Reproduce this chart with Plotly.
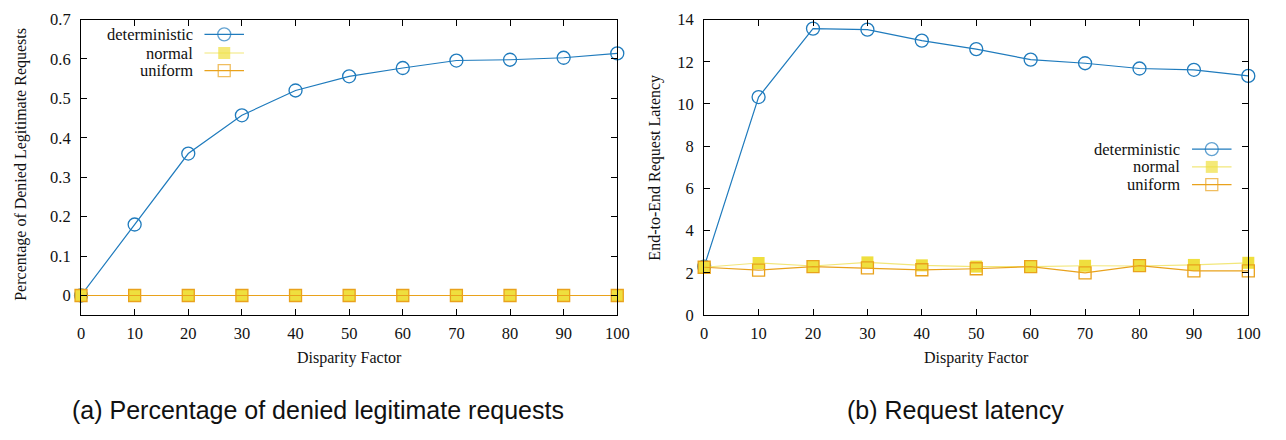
import plotly.graph_objects as go

# Disparity factors tested
disparity = [0, 10, 20, 30, 40, 50, 60, 70, 80, 90, 100]

# (a) share of legitimate requests that were denied
denied_deterministic = [0.0, 0.18, 0.36, 0.457, 0.52, 0.556, 0.577, 0.596, 0.598, 0.603, 0.614]
denied_normal = [0, 0, 0, 0, 0, 0, 0, 0, 0, 0, 0]
denied_uniform = [0, 0, 0, 0, 0, 0, 0, 0, 0, 0, 0]

# (b) end-to-end request latency
latency_deterministic = [2.3, 10.33, 13.57, 13.52, 13.0, 12.6, 12.1, 11.93, 11.68, 11.62, 11.33]
latency_normal = [2.27, 2.47, 2.33, 2.5, 2.36, 2.3, 2.3, 2.34, 2.33, 2.38, 2.48]
latency_uniform = [2.27, 2.13, 2.3, 2.24, 2.15, 2.2, 2.3, 2.0, 2.35, 2.1, 2.1]

series_names = ["deterministic", "normal", "uniform"]
x_ticks = [0, 10, 20, 30, 40, 50, 60, 70, 80, 90, 100]
y_ticks_a = [0, 0.1, 0.2, 0.3, 0.4, 0.5, 0.6, 0.7]
y_ticks_b = [0, 2, 4, 6, 8, 10, 12, 14]

# Figure fills the whole window; layout positions below are in window pixels.
W, H = 1286, 440

BLUE = "#1f7bbd"
YELLOW = "#efdf3e"
YELLOW_LINE = "#f2e77a"
ORANGE = "#e9a21c"
SERIF = "Liberation Serif"
INK = "#111"


def px_x(p):
    return p / W


def px_y(p):
    return 1 - p / H


styles = {
    "deterministic": dict(line=dict(color=BLUE, width=1.2),
                          marker=dict(symbol="circle-open", size=13, color=BLUE,
                                      line=dict(width=1.3, color=BLUE))),
    "normal": dict(line=dict(color=YELLOW_LINE, width=1.2),
                   marker=dict(symbol="square", size=12, color=YELLOW,
                               line=dict(width=0))),
    "uniform": dict(line=dict(color=ORANGE, width=1.2),
                    marker=dict(symbol="square-open", size=12, color=ORANGE,
                                line=dict(width=1.3, color=ORANGE))),
}

fig = go.Figure()

panel_a = {"deterministic": denied_deterministic, "normal": denied_normal, "uniform": denied_uniform}
panel_b = {"deterministic": latency_deterministic, "normal": latency_normal, "uniform": latency_uniform}

for name in series_names:
    fig.add_trace(go.Scatter(x=disparity, y=panel_a[name], mode="lines+markers",
                             xaxis="x", yaxis="y", cliponaxis=False,
                             showlegend=False, **styles[name]))
for name in series_names:
    fig.add_trace(go.Scatter(x=disparity, y=panel_b[name], mode="lines+markers",
                             xaxis="x2", yaxis="y2", cliponaxis=False,
                             showlegend=False, **styles[name]))


def legend_block(text_right, line_x0, line_x1, rows):
    """Key with the label on the left and the line/marker sample on the right."""
    for name, row_y in zip(series_names, rows):
        mid = (line_x0 + line_x1) / 2
        st = styles[name]
        fig.add_trace(go.Scatter(
            x=[line_x0, mid, line_x1], y=[row_y, row_y, row_y], mode="lines+markers",
            xaxis="x3", yaxis="y3", showlegend=False, hoverinfo="skip",
            line=st["line"],
            marker=dict(symbol=st["marker"]["symbol"], size=[0, st["marker"]["size"], 0],
                        color=st["marker"]["color"], line=st["marker"]["line"])))
        fig.add_annotation(x=px_x(text_right), y=px_y(row_y), xref="paper", yref="paper",
                           text=name, showarrow=False, xanchor="right", yanchor="middle",
                           font=dict(family=SERIF, size=16.5, color=INK))


legend_block(193, 203, 243, [26.5, 46, 64.5])
legend_block(1193, 1203, 1243, [146.5, 165, 183.5])

axis_common = dict(showline=True, linecolor="black", linewidth=1.2, mirror="ticks",
                   ticks="inside", ticklen=6, tickwidth=1, tickcolor="black",
                   showgrid=False, zeroline=False, ticklabeloverflow="allow",
                   tickfont=dict(family=SERIF, size=16.5, color=INK))

fig.update_layout(
    width=W, height=H,
    margin=dict(l=0, r=0, t=0, b=0),
    paper_bgcolor="white", plot_bgcolor="rgba(0,0,0,0)",
    xaxis=dict(domain=[px_x(78), px_x(621)], range=[0, 100], tickvals=x_ticks,
               anchor="y", ticklabelstandoff=3, **axis_common),
    yaxis=dict(domain=[px_y(320), px_y(11)], range=[-0.05, 0.7], tickvals=y_ticks_a,
               anchor="x", ticklabelstandoff=6, **axis_common),
    xaxis2=dict(domain=[px_x(709), px_x(1260)], range=[0, 100], tickvals=x_ticks,
                anchor="y2", ticklabelstandoff=3, **axis_common),
    yaxis2=dict(domain=[px_y(320), px_y(11)], range=[0, 14], tickvals=y_ticks_b,
                anchor="x2", ticklabelstandoff=6, **axis_common),
    xaxis3=dict(domain=[0, 1], range=[0, W], visible=False, anchor="y3", fixedrange=True),
    yaxis3=dict(domain=[0, 1], range=[H, 0], visible=False, anchor="x3", fixedrange=True),
)

# Axis titles
title_font = dict(family=SERIF, size=16, color=INK)
for cx in (349.5, 984.5):
    fig.add_annotation(x=px_x(cx), y=px_y(365), xref="paper", yref="paper",
                       text="Disparity Factor", showarrow=False,
                       xanchor="center", yanchor="middle", font=title_font)
fig.add_annotation(x=px_x(17), y=px_y(162), xref="paper", yref="paper",
                   text="Percentage of Denied Legitimate Requests", showarrow=False,
                   textangle=-90, xanchor="center", yanchor="middle", font=title_font)
fig.add_annotation(x=px_x(659), y=px_y(166), xref="paper", yref="paper",
                   text="End-to-End Request Latency", showarrow=False,
                   textangle=-90, xanchor="center", yanchor="middle", font=title_font)

# Sub-figure captions
caption_font = dict(family="Liberation Sans", size=25, color=INK)
fig.add_annotation(x=px_x(318), y=px_y(419), xref="paper", yref="paper",
                   text="(a) Percentage of denied legitimate requests", showarrow=False,
                   xanchor="center", yanchor="middle", font=caption_font)
fig.add_annotation(x=px_x(963), y=px_y(419), xref="paper", yref="paper",
                   text="(b) Request latency", showarrow=False,
                   xanchor="center", yanchor="middle", font=caption_font)

fig.write_html("out.html", post_script="document.body.style.margin='0';")
